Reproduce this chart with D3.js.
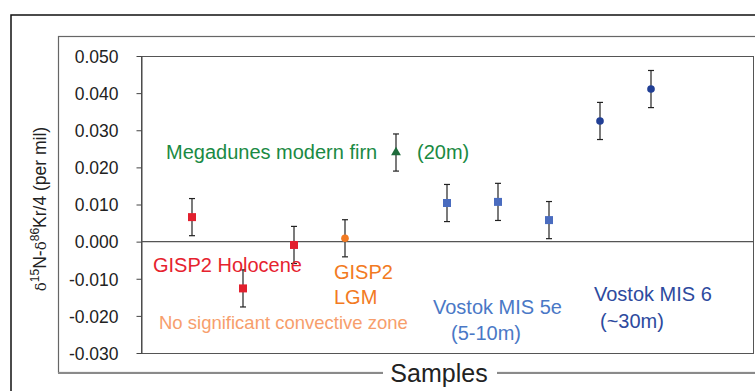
<!DOCTYPE html>
<html>
<head>
<meta charset="utf-8">
<script src="https://cdn.jsdelivr.net/npm/d3@7"></script>
<style>
  html, body { margin: 0; padding: 0; background: #fff; }
  svg { display: block; font-family: "Liberation Sans", Arial, Helvetica, sans-serif; }
</style>
</head>
<body>
<svg id="chart" width="755" height="391"></svg>
<script>
// sample order along the x axis (no tick labels are shown)
const sampleIndex = [1, 2, 3, 4, 5, 6, 7, 8, 9, 10]
const sampleSeries = ["holocene", "holocene", "holocene", "lgm", "megadunes",
  "mis5e", "mis5e", "mis5e", "mis6", "mis6"]
// d15N - d86Kr/4 (per mil) and the error bar half-width
const sampleValues = [0.0066, -0.0126, -0.0009, 0.0009, 0.0240,
  0.0104, 0.0107, 0.0058, 0.0325, 0.0411]
const sampleErrors = [0.005, 0.005, 0.005, 0.005, 0.005,
  0.005, 0.005, 0.005, 0.005, 0.005]
const yTickValues = [-0.03, -0.02, -0.01, 0, 0.01, 0.02, 0.03, 0.04, 0.05]

const seriesStyle = {
  "holocene":  {symbol: d3.symbolSquare,   size: 64, color: "#e2202e"},
  "lgm":       {symbol: d3.symbolCircle,   size: 46, color: "#f27a22"},
  "megadunes": {symbol: d3.symbolTriangle, size: 42, color: "#1e6b3b"},
  "mis5e":     {symbol: d3.symbolSquare,   size: 64, color: "#4a6cbf"},
  "mis6":      {symbol: d3.symbolCircle,   size: 46, color: "#213f95"}
}

const annotations = [
  {text: "Megadunes modern firn", x: 166, y: 159, size: 20, color: "#1a8a43"},
  {text: "(20m)", x: 417, y: 159, size: 20, color: "#1a8a43"},
  {text: "GISP2 Holocene", x: 153, y: 272, size: 20, color: "#e6222e"},
  {text: "GISP2", x: 334, y: 279, size: 20, color: "#f27a22"},
  {text: "LGM", x: 334, y: 304, size: 20, color: "#f27a22"},
  {text: "No significant convective zone", x: 159, y: 329, size: 18.5, color: "#f79e6c"},
  {text: "Vostok MIS 5e", x: 433, y: 314, size: 20, color: "#4a78c6"},
  {text: "(5-10m)", x: 451, y: 340, size: 20, color: "#4a78c6"},
  {text: "Vostok MIS 6", x: 594, y: 301, size: 20, color: "#2d4a9e"},
  {text: "(~30m)", x: 600, y: 328, size: 20, color: "#2d4a9e"}
]

const plot = {left: 141, top: 56, right: 753, bottom: 353}

const svg = d3.select("#chart")

const x = d3.scaleLinear().domain([0, 12]).range([plot.left, plot.right])
const y = d3.scaleLinear().domain([-0.03, 0.05]).range([plot.bottom, plot.top])

// ------------------------------------------
// frames
// ------------------------------------------

svg.append("rect")
  .attr("x", 11).attr("y", 15)
  .attr("width", 900).attr("height", 500)
  .attr("fill", "none")
  .attr("stroke", "#111")
  .attr("stroke-width", 1.5)

svg.append("rect")
  .attr("x", 58.5).attr("y", 36.5)
  .attr("width", 900).attr("height", 336)
  .attr("fill", "none")
  .attr("stroke", "#666")
  .attr("stroke-width", 1.2)

// bottom edge of the inner frame is heavier and grey
svg.append("line")
  .attr("x1", 58).attr("x2", 755)
  .attr("y1", 373).attr("y2", 373)
  .attr("stroke", "#8a8a8a")
  .attr("stroke-width", 2)

svg.append("rect")
  .attr("x", plot.left + 0.5).attr("y", plot.top + 0.5)
  .attr("width", plot.right - plot.left).attr("height", plot.bottom - plot.top)
  .attr("fill", "none")
  .attr("stroke", "#555")
  .attr("stroke-width", 1)

// ------------------------------------------
// axis
// ------------------------------------------

const yAxis = d3.axisLeft(y)
  .tickValues(yTickValues)
  .tickSize(5)
  .tickSizeOuter(0)
  .tickPadding(18)
  .tickFormat(d => d.toFixed(3))

const yAxisGroup = svg.append("g")
  .attr("transform", `translate(${plot.left + 0.5},0)`)
  .call(yAxis)

yAxisGroup.select(".domain").attr("stroke", "#444")
yAxisGroup.selectAll(".tick line").attr("stroke", "#444")
yAxisGroup.selectAll(".tick text")
  .attr("fill", "#222")
  .attr("font-family", "Liberation Sans, Arial, sans-serif")
  .attr("font-size", 17.5)
  .attr("dy", "0.36em")

// zero line
svg.append("line")
  .attr("x1", plot.left).attr("x2", plot.right)
  .attr("y1", y(0)).attr("y2", y(0))
  .attr("stroke", "#555")
  .attr("stroke-width", 1.3)

// y label with superscripts
const yLabel = svg.append("text")
  .attr("transform", "translate(46,209) rotate(-90)")
  .attr("text-anchor", "middle")
  .attr("font-size", 17.5)
  .attr("fill", "#222")

yLabel.append("tspan").attr("font-family", "DejaVu Serif, serif").attr("font-size", 15).text("δ")
yLabel.append("tspan").attr("font-size", 12).attr("dy", -7).text("15")
yLabel.append("tspan").attr("dy", 7).text("N-")
yLabel.append("tspan").attr("font-family", "DejaVu Serif, serif").attr("font-size", 15).text("δ")
yLabel.append("tspan").attr("font-size", 12).attr("dy", -7).text("86")
yLabel.append("tspan").attr("dy", 7).text("Kr/4 (per mil)")

// x label sitting on the frame line
svg.append("rect")
  .attr("x", 383).attr("y", 360)
  .attr("width", 114).attr("height", 26)
  .attr("fill", "#fff")

svg.append("text")
  .attr("x", 439).attr("y", 381.5)
  .attr("text-anchor", "middle")
  .attr("font-size", 25)
  .attr("fill", "#222")
  .text("Samples")

// ------------------------------------------
// error bars and points
// ------------------------------------------

const samples = sampleIndex.map((idx, i) => ({
  idx: idx,
  series: sampleSeries[i],
  value: sampleValues[i],
  error: sampleErrors[i]
}))

const bars = svg.append("g")
  .selectAll("g")
  .data(samples)
  .join("g")
  .attr("stroke", "#222")
  .attr("stroke-width", 1.2)

bars.append("line")
  .attr("x1", d => x(d.idx)).attr("x2", d => x(d.idx))
  .attr("y1", d => y(d.value + d.error)).attr("y2", d => y(d.value - d.error))

bars.append("line")
  .attr("x1", d => x(d.idx) - 3).attr("x2", d => x(d.idx) + 3)
  .attr("y1", d => y(d.value + d.error)).attr("y2", d => y(d.value + d.error))

bars.append("line")
  .attr("x1", d => x(d.idx) - 3).attr("x2", d => x(d.idx) + 3)
  .attr("y1", d => y(d.value - d.error)).attr("y2", d => y(d.value - d.error))

svg.append("g")
  .selectAll("path")
  .data(samples)
  .join("path")
  .attr("transform", d => `translate(${x(d.idx)},${y(d.value)})`)
  .attr("d", d => d3.symbol().type(seriesStyle[d.series].symbol).size(seriesStyle[d.series].size)())
  .attr("fill", d => seriesStyle[d.series].color)

// ------------------------------------------
// annotations
// ------------------------------------------

svg.append("g")
  .selectAll("text")
  .data(annotations)
  .join("text")
  .attr("x", d => d.x)
  .attr("y", d => d.y)
  .attr("font-size", d => d.size)
  .attr("fill", d => d.color)
  .attr("xml:space", "preserve")
  .text(d => d.text)
</script>
</body>
</html>
